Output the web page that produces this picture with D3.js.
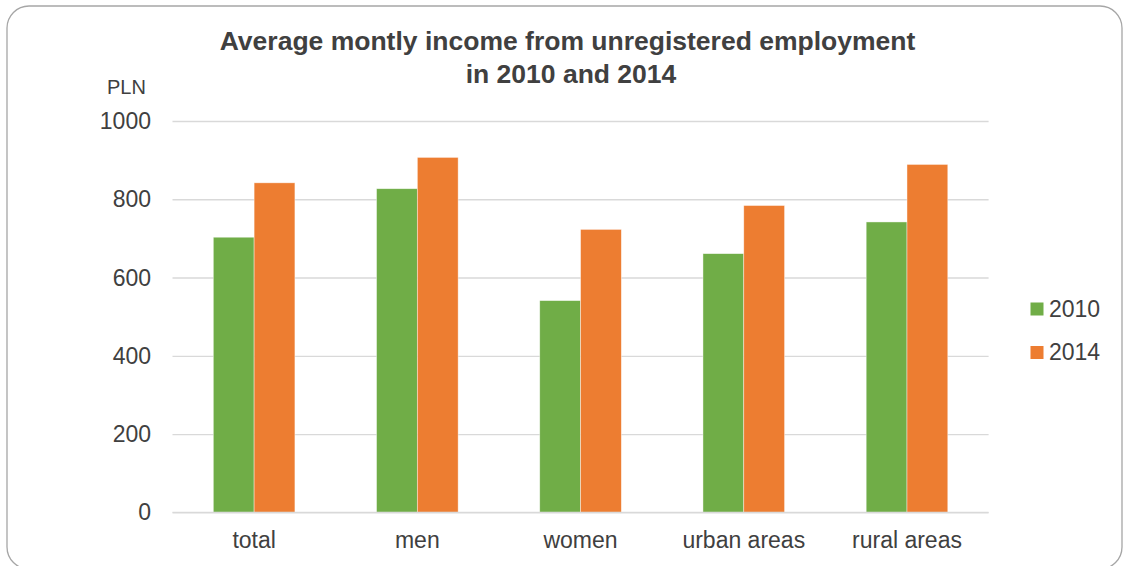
<!DOCTYPE html>
<html>
<head>
<meta charset="utf-8">
<script src="https://cdn.jsdelivr.net/npm/d3@7"></script>
<style>
  html, body { margin: 0; padding: 0; background: #fff; }
  svg { display: block; font-family: "Liberation Sans", Arial, sans-serif; }
</style>
</head>
<body>
<svg id="chart" width="1123" height="566"></svg>
<script>
const categories = ["total", "men", "women", "urban areas", "rural areas"];
const seriesNames = ["2010", "2014"];
const values2010 = [703, 827, 541, 661, 742];
const values2014 = [842, 907, 723, 784, 889];
const yTicks = [0, 200, 400, 600, 800, 1000];
const titleLines = ["Average montly income from unregistered employment", "in 2010 and 2014"];
const unitLabel = "PLN";
const colors = ["#70AD47", "#ED7D31"];

const svg = d3.select("#chart");
const plot = { left: 172.5, right: 988.6, top: 121, bottom: 512.3 };

// Border
svg.append("rect")
  .attr("x", 7).attr("y", 6)
  .attr("width", 1115).attr("height", 563)
  .attr("rx", 22).attr("ry", 22)
  .attr("fill", "#fff")
  .attr("stroke", "#a6a6a6").attr("stroke-width", 1.3);

const x = d3.scaleBand().domain(categories).range([plot.left, plot.right]).padding(0);
const bw = x.bandwidth();
const xs = d3.scaleBand().domain(seriesNames).range([bw * 0.25, bw * 0.75]).padding(0);
const y = d3.scaleLinear().domain([0, 1000]).range([plot.bottom, plot.top]);

// Gridlines
const yAxis = d3.axisLeft(y).tickValues(yTicks).tickSize(-(plot.right - plot.left)).tickFormat(d3.format("d"));
const gy = svg.append("g").attr("transform", `translate(${plot.left},0)`).call(yAxis);
gy.select(".domain").remove();
gy.selectAll(".tick line").attr("stroke", "#d9d9d9").attr("stroke-width", 1.3);
gy.selectAll(".tick text")
  .attr("x", -21.5).attr("dy", "0.33em")
  .attr("fill", "#404040")
  .style("font-size", "23px")
  .style("font-family", "'Liberation Sans', Arial, sans-serif");

// Bars
const data = categories.map((c, i) => ({ cat: c, vals: [values2010[i], values2014[i]] }));
const groups = svg.append("g").selectAll("g").data(data).join("g")
  .attr("transform", d => `translate(${x(d.cat)},0)`);
groups.selectAll("rect")
  .data(d => d.vals.map((v, j) => ({ s: seriesNames[j], v, j })))
  .join("rect")
  .attr("x", d => xs(d.s))
  .attr("width", xs.bandwidth())
  .attr("y", d => y(d.v))
  .attr("height", d => y(0) - y(d.v))
  .attr("fill", d => colors[d.j])
  .attr("stroke", "#ffffff").attr("stroke-width", 0.7).attr("stroke-opacity", 0.6);

// Baseline
svg.append("line")
  .attr("x1", plot.left).attr("x2", plot.right)
  .attr("y1", y(0)).attr("y2", y(0))
  .attr("stroke", "#d9d9d9").attr("stroke-width", 1.3);

// X axis labels
const xAxis = d3.axisBottom(x).tickSize(0);
const gx = svg.append("g").attr("transform", `translate(0,${plot.bottom})`).call(xAxis);
gx.select(".domain").remove();
gx.selectAll(".tick text")
  .attr("y", 35.7).attr("dy", 0)
  .attr("fill", "#404040")
  .style("font-size", "23px")
  .style("font-family", "'Liberation Sans', Arial, sans-serif");

// Title
svg.append("g").selectAll("text").data(titleLines).join("text")
  .attr("x", (d, i) => i === 0 ? 567.5 : 571)
  .attr("y", (d, i) => 50 + i * 32.5)
  .attr("text-anchor", "middle")
  .attr("fill", "#404040")
  .style("font-size", "26.5px")
  .style("font-weight", "bold")
  .text(d => d);

// Unit label
svg.append("text")
  .attr("x", 107).attr("y", 94)
  .attr("fill", "#404040")
  .style("font-size", "20px")
  .text(unitLabel);

// Legend
const legend = svg.append("g").selectAll("g").data(seriesNames).join("g")
  .attr("transform", (d, i) => `translate(1030.5,${302.5 + i * 43.5})`);
legend.append("rect")
  .attr("width", 13).attr("height", 13)
  .attr("fill", (d, i) => colors[i]);
legend.append("text")
  .attr("x", 18.5).attr("y", 14.3)
  .attr("fill", "#404040")
  .style("font-size", "23px")
  .text(d => d);
</script>
</body>
</html>
